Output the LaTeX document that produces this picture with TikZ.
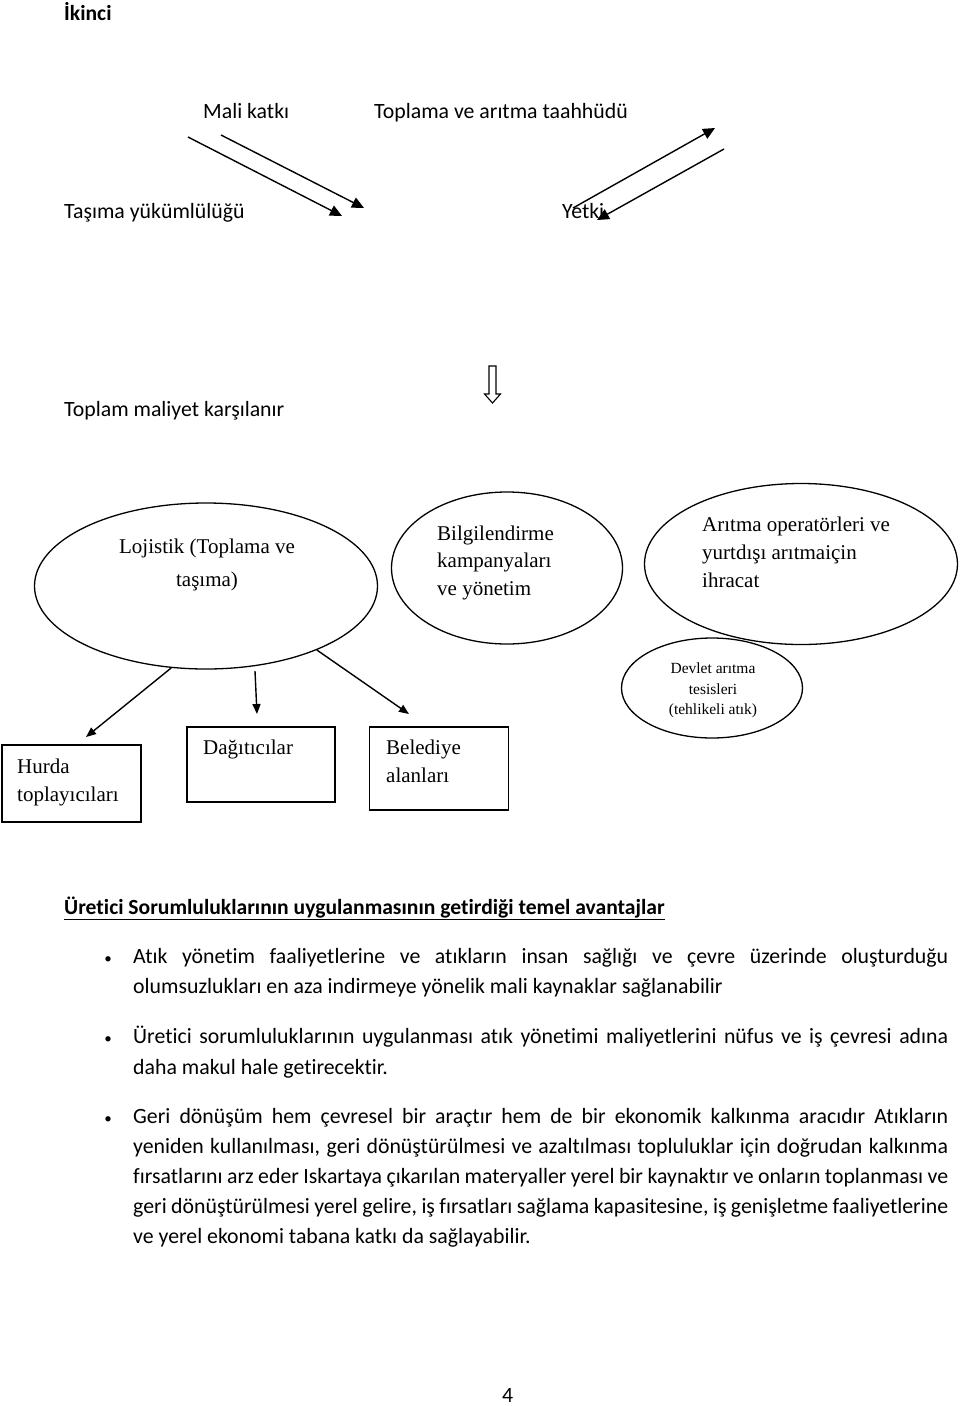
\documentclass[tikz,border=0pt]{standalone}
\usepackage{fontspec}
\setmainfont{Carlito}[Ligatures=NoCommon]
\newfontfamily\tms{Liberation Serif}
\usetikzlibrary{shapes.geometric,arrows.meta}
\begin{document}
\begin{tikzpicture}[x=1pt,y=-1pt,
  body/.style={anchor=base west,inner sep=0,font=\fontsize{21.8}{30}\selectfont},
  bold/.style={body,font=\bfseries\fontsize{21.6}{30}\selectfont},
  bul/.style={anchor=base,inner sep=0,font=\fontsize{15}{20}\selectfont},
  tml/.style={anchor=base west,inner sep=0,font=\tms\fontsize{21}{28}\selectfont},
  tmc/.style={anchor=base,inner sep=0,font=\tms\fontsize{21}{28}\selectfont},
  tms/.style={anchor=base,inner sep=0,font=\tms\fontsize{15.5}{21}\selectfont},
  oval/.style={draw,ellipse,line width=1.3,inner sep=0},
  box/.style={draw,line width=1.3,inner sep=0},
  toparr/.style={line width=1.4,-{Triangle[length=12,width=11]}},
  botarr/.style={line width=1.4,-{Triangle[length=10,width=8]}}]
\useasboundingbox[fill=white] (0,0) rectangle (960,1406);

% header texts
\node[bold] (ikinci) at (64,20) {İkinci};
\node[body] (mali) at (203,118) {Mali katkı};
\node[body] (topl) at (374,118) {Toplama ve arıtma taahhüdü};
\node[body] (tasima) at (64,218) {Taşıma yükümlülüğü};
\node[body] (yetki) at (562,218) {Yetki};
\node[body] (maliyet) at (64,416) {Toplam maliyet karşılanır};

% top arrows
\coordinate (a1s) at (188,137); \coordinate (a1e) at (342,216);
\coordinate (a2s) at (221,135); \coordinate (a2e) at (364,208);
\coordinate (a3s) at (573,208); \coordinate (a3e) at (715,128);
\coordinate (a4s) at (724,149); \coordinate (a4e) at (597,220);
\draw[toparr] (a1s) -- (a1e);
\draw[toparr] (a2s) -- (a2e);
\draw[toparr] (a3s) -- (a3e);
\draw[toparr] (a4s) -- (a4e);

% hollow down arrow
\draw[line width=1.1,line join=miter] (489,366) -- (496,366) -- (496,394) -- (500.5,394) -- (492.5,403) -- (484.5,394) -- (489,394) -- cycle;

% ellipses
\node[oval,minimum width=343,minimum height=166] (loj) at (206,586) {};
\node[oval,minimum width=231,minimum height=152] (bilg) at (507,568) {};
\node[oval,minimum width=313,minimum height=161] (arit) at (801,564) {};
\node[oval,minimum width=181,minimum height=100] (devl) at (712,688) {};

\node[tmc] (loj1) at (207,553) {Lojistik (Toplama ve};
\node[tmc] (loj2) at (207,586) {taşıma)};
\node[tml] (bil1) at (437,540) {Bilgilendirme};
\node[tml] (bil2) at (437,567) {kampanyaları};
\node[tml] (bil3) at (437,595) {ve yönetim};
\node[tml] (ar1) at (702,531) {Arıtma operatörleri ve};
\node[tml] (ar2) at (702,559) {yurtdışı arıtmaiçin};
\node[tml] (ar3) at (702,587) {ihracat};
\node[tms] (dv1) at (713,673) {Devlet arıtma};
\node[tms] (dv2) at (713,694) {tesisleri};
\node[tms] (dv3) at (713,714) {(tehlikeli atık)};

% boxes
\node[box,minimum width=139,minimum height=77] (hurb) at (71.5,783.5) {};
\node[box,minimum width=148,minimum height=75] (dagb) at (261,764.5) {};
\node[box,minimum width=139,minimum height=83] (belb) at (439,768.5) {};
\node[tml] (hu1) at (17,773) {Hurda};
\node[tml] (hu2) at (17,801) {toplayıcıları};
\node[tml] (dag) at (203,754) {Dağıtıcılar};
\node[tml] (be1) at (386,754) {Belediye};
\node[tml] (be2) at (386,782) {alanları};

% arrows from logistics ellipse
\coordinate (t1) at (86,737);
\coordinate (s2) at (255,671); \coordinate (t2) at (257,714);
\coordinate (t3) at (409,714);
\draw[botarr] (loj.247) -- (t1);
\draw[botarr] (s2) -- (t2);
\draw[botarr] (loj.330) -- (t3);

% heading
\node[bold] (head) at (64,914) {\underline{Üretici Sorumluluklarının uygulanmasının getirdiği temel avantajlar}};

% bullets
\node[bul] (b1) at (108,963) {•};
\node[bul] (b2) at (108,1043) {•};
\node[bul] (b3) at (108,1123) {•};

\node[body] (l1) at (133,963) {\makebox[815pt][s]{Atık yönetim faaliyetlerine ve atıkların insan sağlığı ve çevre üzerinde oluşturduğu}};
\node[body] (l2) at (133,993) {olumsuzlukları en aza indirmeye yönelik mali kaynaklar sağlanabilir};
\node[body] (l3) at (133,1043) {\makebox[815pt][s]{Üretici sorumluluklarının uygulanması atık yönetimi maliyetlerini nüfus ve iş çevresi adına}};
\node[body] (l4) at (133,1074) {daha makul hale getirecektir.};
\node[body] (l5) at (133,1123) {\makebox[815pt][s]{Geri dönüşüm hem çevresel bir araçtır hem de bir ekonomik kalkınma aracıdır Atıkların}};
\node[body] (l6) at (133,1153) {\makebox[815pt][s]{yeniden kullanılması, geri dönüştürülmesi ve azaltılması topluluklar için doğrudan kalkınma}};
\node[body] (l7) at (133,1183) {\makebox[815pt][s]{fırsatlarını arz eder Iskartaya çıkarılan materyaller yerel bir kaynaktır ve onların toplanması ve}};
\node[body] (l8) at (133,1213) {\makebox[815pt][s]{geri dönüştürülmesi yerel gelire, iş fırsatları sağlama kapasitesine, iş genişletme faaliyetlerine}};
\node[body] (l9) at (133,1243) {ve yerel ekonomi tabana katkı da sağlayabilir.};

\node[body] (page) at (502,1402) {4};
\end{tikzpicture}
\end{document}
